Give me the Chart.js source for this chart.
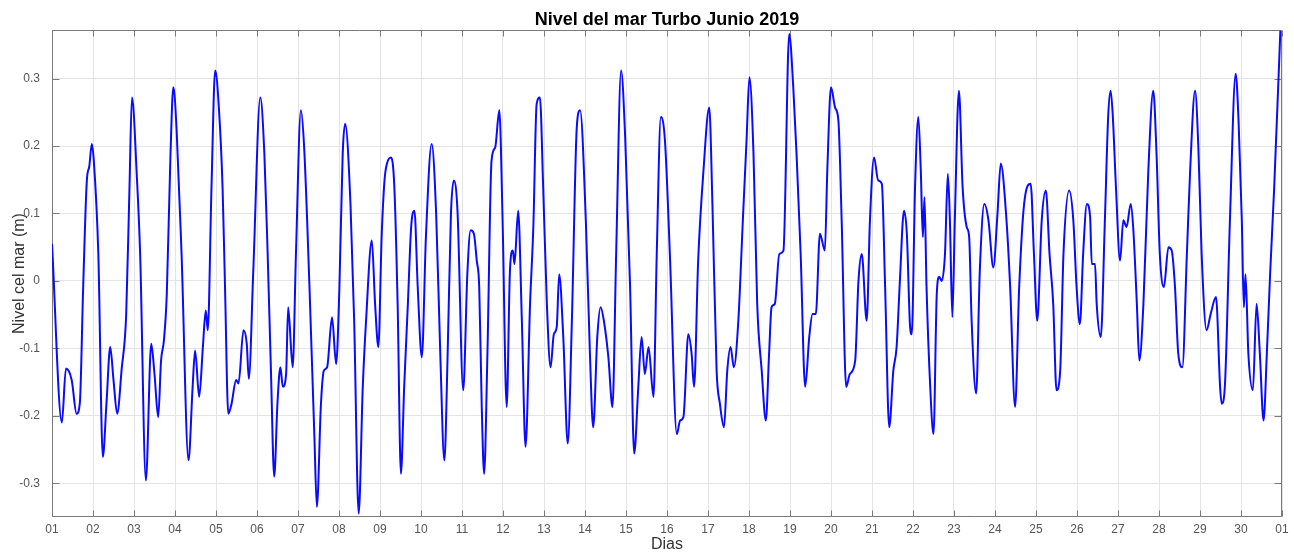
<!DOCTYPE html>
<html lang="es">
<head>
<meta charset="utf-8">
<title>Nivel del mar Turbo Junio 2019</title>
<script src="https://cdn.jsdelivr.net/npm/chart.js@4/dist/chart.umd.min.js"></script>
<style>
    html, body { margin: 0; padding: 0; background: #fff; }
    #caja { width: 1294px; height: 553px; }
</style>
</head>
<body>
<div id="caja"><canvas id="nivelChart"></canvas></div>
<script>
// Serie horaria resumida: dia del mes (fraccion) y nivel del mar en metros
const dias = [
    1.00, 1.24, 1.34, 1.48, 1.60, 1.68, 1.76, 1.85, 1.91, 1.97,
    2.02, 2.13, 2.24, 2.33, 2.42, 2.50, 2.59, 2.70, 2.81, 2.89, 2.95,
    3.07, 3.15, 3.29, 3.42, 3.50, 3.59, 3.66, 3.73, 3.80, 3.89, 3.96,
    4.04, 4.16, 4.33, 4.43, 4.49, 4.59, 4.68, 4.75, 4.80, 4.89, 4.98,
    5.07, 5.16, 5.22, 5.30, 5.38, 5.49, 5.55, 5.67, 5.75, 5.80, 5.91,
    6.08, 6.18, 6.26, 6.34, 6.42, 6.50, 6.57, 6.63, 6.71, 6.76, 6.87, 6.95,
    7.07, 7.15, 7.28, 7.40, 7.46, 7.56, 7.63, 7.71, 7.83, 7.93,
    8.01, 8.09, 8.15, 8.28, 8.37, 8.48, 8.58, 8.66, 8.80, 8.88, 8.96,
    9.04, 9.11, 9.17, 9.27, 9.35, 9.43, 9.51, 9.59, 9.68, 9.76, 9.84, 9.92,
    10.02, 10.12, 10.26, 10.37, 10.47, 10.57, 10.65, 10.73, 10.80, 10.89,
    11.03, 11.13, 11.21, 11.29, 11.36, 11.42, 11.48, 11.54, 11.62, 11.72, 11.81, 11.91, 11.99,
    12.09, 12.17, 12.24, 12.28, 12.37, 12.46, 12.55, 12.66, 12.74, 12.82, 12.90, 12.98,
    13.07, 13.16, 13.24, 13.31, 13.37, 13.47, 13.58, 13.68, 13.80, 13.88,
    14.02, 14.12, 14.20, 14.30, 14.38, 14.46, 14.57, 14.67, 14.76, 14.88, 14.98,
    15.10, 15.20, 15.30, 15.38, 15.46, 15.55, 15.67, 15.75, 15.85, 15.95,
    16.07, 16.24, 16.32, 16.40, 16.52, 16.60, 16.66, 16.76, 16.89,
    17.03, 17.11, 17.21, 17.29, 17.39, 17.47, 17.55, 17.63, 17.74, 17.85, 17.94,
    18.01, 18.11, 18.20, 18.31, 18.41, 18.49, 18.55, 18.63, 18.74, 18.84, 18.98,
    19.08, 19.16, 19.26, 19.37, 19.47, 19.55, 19.63, 19.73, 19.85, 19.91,
    20.00, 20.10, 20.18, 20.26, 20.37, 20.46, 20.59, 20.67, 20.75, 20.87, 20.95,
    21.05, 21.15, 21.24, 21.32, 21.42, 21.52, 21.60, 21.68, 21.78, 21.85, 21.93, 21.97,
    22.05, 22.13, 22.19, 22.24, 22.28, 22.33, 22.42, 22.50, 22.58, 22.64, 22.70, 22.78, 22.85, 22.90, 22.96,
    23.02, 23.12, 23.21, 23.31, 23.37, 23.43, 23.54, 23.63, 23.74, 23.84, 23.96,
    24.06, 24.14, 24.27, 24.37, 24.49, 24.59, 24.71, 24.87, 24.95,
    25.03, 25.14, 25.24, 25.33, 25.42, 25.50, 25.59, 25.67, 25.81, 25.91, 25.99,
    26.07, 26.15, 26.24, 26.32, 26.36, 26.44, 26.48, 26.58, 26.68, 26.76, 26.82, 26.87, 26.95,
    27.05, 27.13, 27.21, 27.31, 27.37, 27.46, 27.52, 27.62, 27.74, 27.86, 27.94,
    28.02, 28.12, 28.23, 28.31, 28.39, 28.47, 28.57, 28.68, 28.76, 28.88, 28.96,
    29.04, 29.16, 29.26, 29.39, 29.49, 29.53, 29.61, 29.73, 29.87, 29.94,
    30.02, 30.07, 30.11, 30.18, 30.29, 30.38, 30.46, 30.55, 30.63, 30.71, 30.81, 30.96
];
const nivel = [
    0.055, -0.210, -0.130, -0.147, -0.197, -0.180, -0.010, 0.149, 0.170, 0.203,
    0.178, 0.040, -0.261, -0.180, -0.098, -0.147, -0.197, -0.130, -0.049, 0.139, 0.272,
    0.154, 0.040, -0.296, -0.093, -0.138, -0.202, -0.118, -0.088, -0.019, 0.188, 0.287,
    0.223, 0.040, -0.266, -0.157, -0.103, -0.172, -0.098, -0.044, -0.073, 0.139, 0.312,
    0.257, 0.139, -0.009, -0.197, -0.182, -0.147, -0.152, -0.073, -0.093, -0.145, 0.016,
    0.272, 0.188, 0.040, -0.133, -0.290, -0.180, -0.128, -0.157, -0.138, -0.039, -0.128, 0.040,
    0.253, 0.198, -0.009, -0.231, -0.335, -0.182, -0.133, -0.128, -0.054, -0.123,
    -0.009, 0.188, 0.233, 0.114, -0.059, -0.345, -0.157, -0.059, 0.060, -0.034, -0.098,
    0.065, 0.149, 0.174, 0.183, 0.139, -0.034, -0.286, -0.157, -0.034, 0.080, 0.104, -0.009,
    -0.113, 0.065, 0.203, 0.099, -0.108, -0.266, -0.108, 0.099, 0.149, 0.104,
    -0.162, 0.010, 0.075, 0.070, 0.030, -0.009, -0.182, -0.286, -0.108, 0.178, 0.198, 0.253, 0.090,
    -0.187, 0.016, 0.045, 0.025, 0.104, -0.059, -0.246, -0.034, 0.080, 0.262, 0.272, 0.139,
    -0.034, -0.128, -0.079, -0.069, 0.010, -0.083, -0.241, -0.059, 0.228, 0.253,
    0.090, -0.108, -0.217, -0.083, -0.039, -0.059, -0.113, -0.187, 0.040, 0.312, 0.213,
    -0.009, -0.256, -0.157, -0.083, -0.138, -0.098, -0.172, 0.040, 0.243, 0.208,
    0.040, -0.227, -0.207, -0.202, -0.079, -0.108, -0.157, 0.030, 0.164,
    0.257, 0.109, -0.133, -0.182, -0.217, -0.133, -0.098, -0.128, -0.059, 0.090, 0.208,
    0.302, 0.188, -0.034, -0.133, -0.207, -0.108, -0.039, -0.034, 0.040, 0.045, 0.366,
    0.287, 0.188, 0.040, -0.157, -0.083, -0.049, -0.049, 0.070, 0.045, 0.164,
    0.287, 0.257, 0.238, 0.090, -0.157, -0.138, -0.118, 0.000, 0.040, -0.059, 0.090,
    0.183, 0.149, 0.144, -0.009, -0.217, -0.133, -0.098, 0.000, 0.104, 0.070, -0.069, -0.079,
    0.139, 0.243, 0.164, 0.065, 0.124, -0.009, -0.157, -0.227, -0.019, 0.006, 0.000, 0.040, 0.159, 0.090, -0.054,
    0.090, 0.282, 0.139, 0.080, 0.065, -0.059, -0.167, 0.016, 0.114, 0.090, 0.020,
    0.099, 0.174, 0.099, -0.009, -0.187, -0.009, 0.114, 0.144, 0.040,
    -0.059, 0.090, 0.134, 0.040, -0.034, -0.162, -0.133, 0.040, 0.134, 0.090, -0.009,
    -0.064, 0.040, 0.114, 0.095, 0.025, 0.025, -0.034, -0.083, 0.090, 0.243, 0.282, 0.248, 0.139,
    0.030, 0.090, 0.080, 0.114, 0.080, -0.034, -0.118, -0.034, 0.164, 0.282, 0.188,
    0.040, -0.009, 0.050, 0.045, -0.009, -0.108, -0.128, 0.040, 0.164, 0.282, 0.198,
    0.040, -0.073, -0.049, -0.024, -0.157, -0.182, -0.152, 0.090, 0.307, 0.238,
    0.090, -0.039, 0.010, -0.108, -0.162, -0.034, -0.108, -0.207, -0.108, 0.010, 0.139, 0.371
];

// Marcas de los ejes
const diasTicks = [1, 2, 3, 4, 5, 6, 7, 8, 9, 10, 11, 12, 13, 14, 15, 16, 17, 18, 19, 20,
    21, 22, 23, 24, 25, 26, 27, 28, 29, 30, 31];
const diasEtiquetas = ['01', '02', '03', '04', '05', '06', '07', '08', '09', '10', '11', '12',
    '13', '14', '15', '16', '17', '18', '19', '20', '21', '22', '23', '24', '25', '26', '27',
    '28', '29', '30', '01'];
const nivelTicks = [-0.3, -0.2, -0.1, 0, 0.1, 0.2, 0.3];
const nivelEtiquetas = ['-0.3', '-0.2', '-0.1', '0', '0.1', '0.2', '0.3'];

const FUENTE = "'Liberation Sans', Arial, Helvetica, sans-serif";

// Caja completa de los ejes con marcas hacia adentro en los cuatro lados
const marcoEjes = {
    id: 'marcoEjes',
    beforeDatasetsDraw(chart) {
        const { ctx, chartArea: a, scales: { x, y } } = chart;
        const l = Math.round(a.left) + 0.5, r = Math.round(a.right) - 0.5;
        const t = Math.round(a.top) + 0.5, b = Math.round(a.bottom) - 0.5;
        ctx.save();
        ctx.strokeStyle = '#7a7a7a';
        ctx.lineWidth = 1;
        ctx.beginPath();
        ctx.rect(l, t, r - l, b - t);
        diasTicks.forEach(d => {
            const px = Math.round(x.getPixelForValue(d)) + 0.5;
            ctx.moveTo(px, b); ctx.lineTo(px, b - 6);
            ctx.moveTo(px, t); ctx.lineTo(px, t + 6);
        });
        nivelTicks.forEach(v => {
            const py = Math.round(y.getPixelForValue(v)) + 0.5;
            ctx.moveTo(l, py); ctx.lineTo(l + 7, py);
            ctx.moveTo(r, py); ctx.lineTo(r - 7, py);
        });
        ctx.stroke();
        ctx.restore();
    }
};

const ctx = document.getElementById('nivelChart').getContext('2d');
new Chart(ctx, {
    type: 'line',
    data: {
        datasets: [{
            label: 'Nivel del mar',
            data: dias.map((d, i) => ({ x: d, y: nivel[i] })),
            borderColor: '#0a0aff',
            borderWidth: 2,
            pointRadius: 0,
            cubicInterpolationMode: 'monotone',
            borderJoinStyle: 'round',
            fill: false
        }]
    },
    options: {
        responsive: true,
        maintainAspectRatio: false,
        animation: false,
        devicePixelRatio: 1,
        layout: { padding: { left: 0, right: 12, top: 0, bottom: 0 } },
        plugins: {
            legend: { display: false },
            tooltip: { enabled: false },
            title: {
                display: true,
                fullSize: false,
                text: 'Nivel del mar Turbo Junio 2019',
                color: '#000',
                font: { family: FUENTE, size: 18, weight: 'bold', lineHeight: 1 },
                padding: { top: 11, bottom: 1 }
            }
        },
        scales: {
            x: {
                type: 'linear',
                min: 1,
                max: 31,
                afterBuildTicks: s => { s.ticks = diasTicks.map(v => ({ value: v })); },
                afterFit: s => { s.height = 36; s.paddingLeft = 0; s.paddingRight = 0; },
                border: { display: false },
                grid: { color: '#e4e4e4', lineWidth: 1, drawTicks: false },
                ticks: {
                    autoSkip: false,
                    maxRotation: 0,
                    padding: 5,
                    color: '#555',
                    font: { family: FUENTE, size: 12 },
                    callback: (v, i) => diasEtiquetas[i]
                },
                title: {
                    display: true,
                    text: 'Dias',
                    color: '#333',
                    font: { family: FUENTE, size: 16, lineHeight: 1 },
                    padding: { top: 0, bottom: 0 }
                }
            },
            y: {
                min: -0.35,
                max: 0.372,
                afterBuildTicks: s => { s.ticks = nivelTicks.map(v => ({ value: v })); },
                afterFit: s => { s.width = 52; },
                border: { display: false },
                grid: { color: '#e4e4e4', lineWidth: 1, drawTicks: false },
                ticks: {
                    padding: 12,
                    color: '#555',
                    font: { family: FUENTE, size: 12 },
                    callback: (v, i) => nivelEtiquetas[i]
                },
                title: {
                    display: true,
                    text: 'Nivel cel mar (m)',
                    color: '#333',
                    font: { family: FUENTE, size: 16, lineHeight: 1.2 },
                    padding: { top: 10, bottom: 0 }
                }
            }
        }
    },
    plugins: [marcoEjes]
});
</script>
</body>
</html>
